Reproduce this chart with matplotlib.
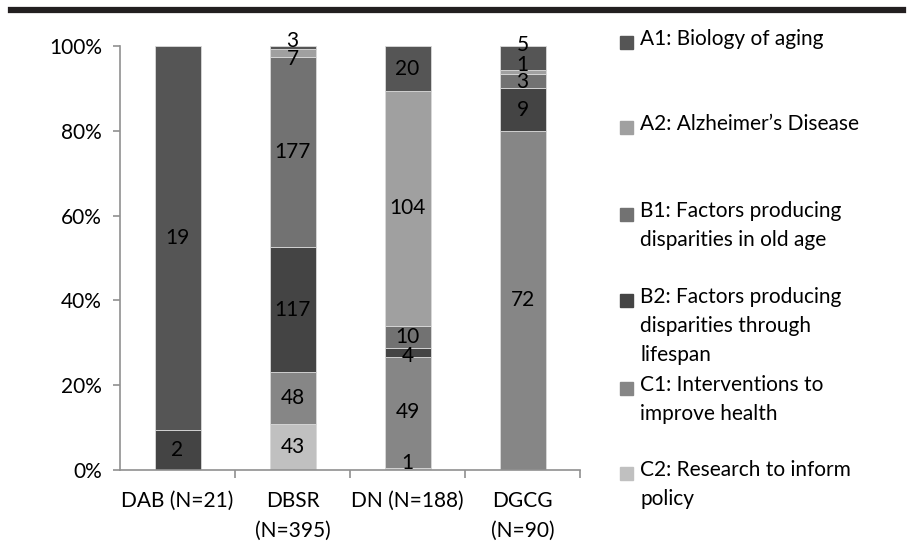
import numpy as np
import matplotlib
matplotlib.use("Agg")
import matplotlib.pyplot as plt
from matplotlib.patches import Rectangle

plt.rcParams["font.family"] = ["Lato", "DejaVu Sans"]

categories = ["DAB (N=21)", "DBSR\n(N=395)", "DN (N=188)", "DGCG\n(N=90)"]

# stacking order: bottom -> top
series_names = [
    "C2: Research to inform\npolicy",
    "C1: Interventions to\nimprove health",
    "B2: Factors producing\ndisparities through\nlifespan",
    "B1: Factors producing\ndisparities in old age",
    "A2: Alzheimer\u2019s Disease",
    "A1: Biology of aging",
]
c2 = [0, 43, 1, 0]
c1 = [0, 48, 49, 72]
b2 = [2, 117, 4, 9]
b1 = [0, 177, 10, 3]
a2 = [0, 7, 104, 1]
a1 = [19, 3, 20, 5]
series_vals = [c2, c1, b2, b1, a2, a1]
colors = ["#c0c0c0", "#868686", "#444444", "#727272", "#a0a0a0", "#555555"]

# small label shifts (pixels, + = down) so thin-segment labels don't collide
label_nudge = {(1, 5): -7, (1, 4): 6, (2, 0): -6, (2, 2): 3,
               (3, 5): -13, (3, 4): -7, (3, 3): 1}

FS = 15


def main():
    fig = plt.figure(figsize=(9.1, 5.57), dpi=100)
    W, H = 910, 557
    ax = fig.add_axes([120 / W, 1 - 470 / H, 460 / W, 424 / H])
    px = 100 / 424  # percent per pixel

    data = np.array(series_vals, dtype=float)
    totals = data.sum(axis=0)
    pct = data / totals * 100
    x = np.arange(len(categories))
    bottom = np.zeros(len(categories))
    for k, (vals, p, col) in enumerate(zip(series_vals, pct, colors)):
        ax.bar(x, p, width=0.4, bottom=bottom, color=col,
               edgecolor="#d9d9d9", linewidth=0.6, zorder=2)
        for i, v in enumerate(vals):
            if v > 0:
                yc = bottom[i] + p[i] / 2 - label_nudge.get((i, k), 0) * px
                ax.text(x[i], yc, str(v), ha="center", va="center",
                        fontsize=FS, color="black", zorder=3)
        bottom += p

    ax.set_xlim(-0.5, len(categories) - 0.5)
    ax.set_ylim(0, 100)
    ax.set_yticks(np.arange(0, 101, 20))
    ax.set_yticklabels([f"{t}%" for t in range(0, 101, 20)], fontsize=FS)
    ax.set_xticks(x)
    ax.set_xticklabels(categories, fontsize=FS, linespacing=1.6)
    ax.tick_params(axis="x", length=0, pad=15)
    ax.tick_params(axis="y", length=5, width=1.2, color="#909090", pad=8)
    # category boundary ticks
    ax.set_xticks(np.arange(0.5, len(categories), 1), minor=True)
    ax.tick_params(axis="x", which="minor", length=6, width=1.2, color="#909090")
    for s in ["top", "right"]:
        ax.spines[s].set_visible(False)
    for s in ["left", "bottom"]:
        ax.spines[s].set_color("#909090")
        ax.spines[s].set_linewidth(1.2)

    # heavy rule at top
    fig.add_artist(plt.Line2D([11 / W, 903 / W], [1 - 10 / H, 1 - 10 / H],
                              color="#231f20", linewidth=4.5))

    # legend, listed top -> bottom
    ys = [42, 127, 214, 300, 388, 473]
    for name, col, y in zip(series_names[::-1], colors[::-1], ys):
        fig.add_artist(Rectangle((620 / W, 1 - (y + 7) / H), 13 / W, 13 / H,
                                 transform=fig.transFigure, color=col))
        fig.text(640 / W, 1 - (y - 13) / H, name, ha="left", va="top",
                 fontsize=FS, linespacing=1.55)

    fig.savefig("out.png", dpi=100)


if __name__ == "__main__":
    main()
